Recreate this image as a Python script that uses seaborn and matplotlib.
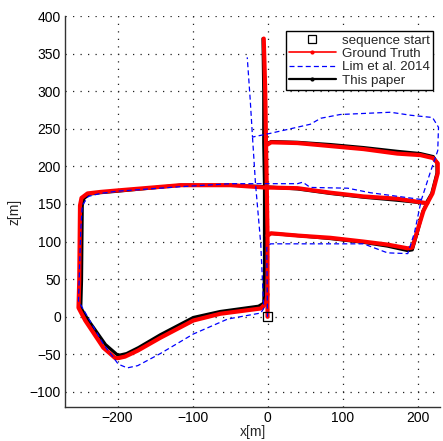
import matplotlib
matplotlib.use("Agg")
import matplotlib.pyplot as plt
from matplotlib.lines import Line2D
import numpy as np
import pandas as pd
import seaborn as sns

sns.set_theme(style="white")
plt.rcParams['font.family'] = ['Liberation Sans', 'DejaVu Sans']

# ---------------- data (metres) ----------------
start_x = [0]
start_z = [0]

# Ground truth segments
gt_vert_x = [0, 0, 0, -1, -2, -3, -5]
gt_vert_z = [0, 50, 111, 175, 232, 300, 370]
gt_low_x = [0, 5, 40, 84, 128, 160, 187, 193, 200, 208, 213]
gt_low_z = [108, 111, 108, 105, 100, 96, 91, 92, 115, 141, 151]
gt_mid_x = [213, 173, 128, 84, 40, -5, -49, -116, -200, -223, -240, -248, -250, -251, -252,
            -243, -219, -203, -199, -190, -173, -143, -99, -63, -9, -2, 0]
gt_mid_z = [151, 157, 160, 165, 171, 172, 175, 175, 168, 166, 164, 158, 148, 48, 12,
            -5, -41, -55, -55, -53, -45, -28, -5, 4, 11, 18, 30]
gt_up_x = [-2, 5, 40, 84, 128, 173, 204, 221, 227, 227, 220, 213]
gt_up_z = [228, 232, 231, 227, 223, 217, 215, 211, 204, 191, 164, 151]

# This paper segments
tp_vert_x = [-5, -4, -4, -4, -5, -5, -6]
tp_vert_z = [14, 60, 111, 175, 232, 300, 370]
tp_low_x = [-4, 2, 40, 84, 128, 160, 187, 193, 200, 207, 212]
tp_low_z = [108, 111, 108, 104, 99, 94, 88, 89, 113, 140, 150]
tp_mid_x = [212, 173, 128, 84, 40, -5, -49, -116, -200, -223, -238, -245, -247, -248, -249,
            -240, -216, -201, -197, -188, -172, -143, -99, -63, -12, -5]
tp_mid_z = [151, 155, 159, 164, 170, 173, 175, 175, 167, 165, 163, 157, 148, 48, 12,
            -3, -37, -50, -51, -49, -41, -24, -1, 7, 14, 18]
tp_up_x = [-4, 5, 40, 84, 128, 173, 204, 221, 226, 226, 219, 212]
tp_up_z = [229, 233, 232, 229, 225, 220, 217, 213, 205, 191, 164, 152]

# Lim et al. 2014 segments
lim_a_x = [0, -1, 4, 128, 160, 187, 196, 205, 217, 227, 228, 220, 191, 164, 97, 71, 57, 4, -20, -23, -27]
lim_a_z = [0, 92, 97, 97, 85, 84, 112, 155, 192, 221, 252, 265, 268, 272, 269, 264, 256, 244, 239, 288, 345]
lim_b_x = [205, 137, 107, 57, 47, 40, -49, -116, -200, -223, -239, -247, -249, -252,
           -219, -199, -187, -173, -143, -99, -53, -9, -5, -9, -16, -20]
lim_b_z = [156, 165, 171, 172, 179, 177, 177, 173, 167, 164, 160, 148, 115, 21,
           -36, -63, -68, -65, -49, -23, -3, 5, 11, 97, 177, 239]

x_ticks = [-200, -100, 0, 100, 200]
z_ticks = [-100, -50, 0, 50, 100, 150, 200, 250, 300, 350, 400]
legend_labels = ["sequence start", "Ground Truth", "Lim et al. 2014", "This paper"]


def frame(segs):
    rows = []
    for i, (xs, zs) in enumerate(segs):
        for k, (x, z) in enumerate(zip(xs, zs)):
            rows.append((i, k, x, z))
    return pd.DataFrame(rows, columns=["seg", "k", "x", "z"])


gt = frame([(gt_vert_x, gt_vert_z), (gt_low_x, gt_low_z), (gt_mid_x, gt_mid_z), (gt_up_x, gt_up_z)])
tp = frame([(tp_vert_x, tp_vert_z), (tp_low_x, tp_low_z), (tp_mid_x, tp_mid_z), (tp_up_x, tp_up_z)])
lim = frame([(lim_a_x, lim_a_z), (lim_b_x, lim_b_z)])
st = pd.DataFrame({"x": start_x, "z": start_z})

fig = plt.figure(figsize=(4.43, 4.41), dpi=100)
ax = fig.add_axes([65 / 443, 34 / 441, 375 / 443, 391 / 441])

sns.lineplot(data=tp, x="x", y="z", units="seg", estimator=None, sort=False,
             color="black", linewidth=2.3, ax=ax, legend=False, zorder=3)
sns.lineplot(data=gt, x="x", y="z", units="seg", estimator=None, sort=False,
             color="#ff0000", linewidth=3.0, ax=ax, legend=False, zorder=4)
sns.lineplot(data=lim, x="x", y="z", units="seg", estimator=None, sort=False,
             color="#0000ff", linewidth=0.9, linestyle=(0, (4, 2.5)), ax=ax, legend=False, zorder=5)
sns.scatterplot(data=st, x="x", y="z", marker="s", s=38, facecolors="none",
                edgecolors="black", linewidths=0.9, ax=ax, zorder=6, legend=False)

ax.set_xlim(-270, 230)
ax.set_ylim(-120, 400)
ax.set_xticks(x_ticks)
ax.set_yticks(z_ticks)
ax.set_xticklabels(["\u2212200", "\u2212100", "0", "100", "200"])
ax.set_yticklabels([("\u2212" + str(-v)) if v < 0 else str(v) for v in z_ticks])
ax.tick_params(length=0, labelsize=10, pad=3, colors="black")
ax.grid(True, linestyle=(0, (1, 5)), color="#222222", linewidth=0.9)
ax.set_axisbelow(True)
for side in ["top", "right"]:
    ax.spines[side].set_visible(False)
for side in ["left", "bottom"]:
    ax.spines[side].set_color("#333333")
    ax.spines[side].set_linewidth(1.0)
ax.set_xlabel("x[m]", fontsize=10, labelpad=0)
ax.set_ylabel("z[m]", fontsize=10, labelpad=6)

handles = [
    Line2D([], [], linestyle="none", marker="s", markersize=6, markerfacecolor="none",
           markeredgecolor="black", markeredgewidth=0.9),
    Line2D([], [], color="#ff0000", linewidth=1.2, marker=".", markersize=4),
    Line2D([], [], color="#0000ff", linewidth=0.9, linestyle=(0, (4, 2.5))),
    Line2D([], [], color="black", linewidth=1.6, marker=".", markersize=4),
]
leg = ax.legend(handles, legend_labels, loc="upper right", bbox_to_anchor=(0.981, 0.962),
                fontsize=9.6, frameon=True, fancybox=False, edgecolor="black",
                framealpha=1, handlelength=3.5, handletextpad=0.45, labelspacing=0.08,
                borderpad=0.25, borderaxespad=0, numpoints=1)
leg.get_frame().set_linewidth(1.0)
leg.set_zorder(10)

fig.savefig("out.png", dpi=100)
